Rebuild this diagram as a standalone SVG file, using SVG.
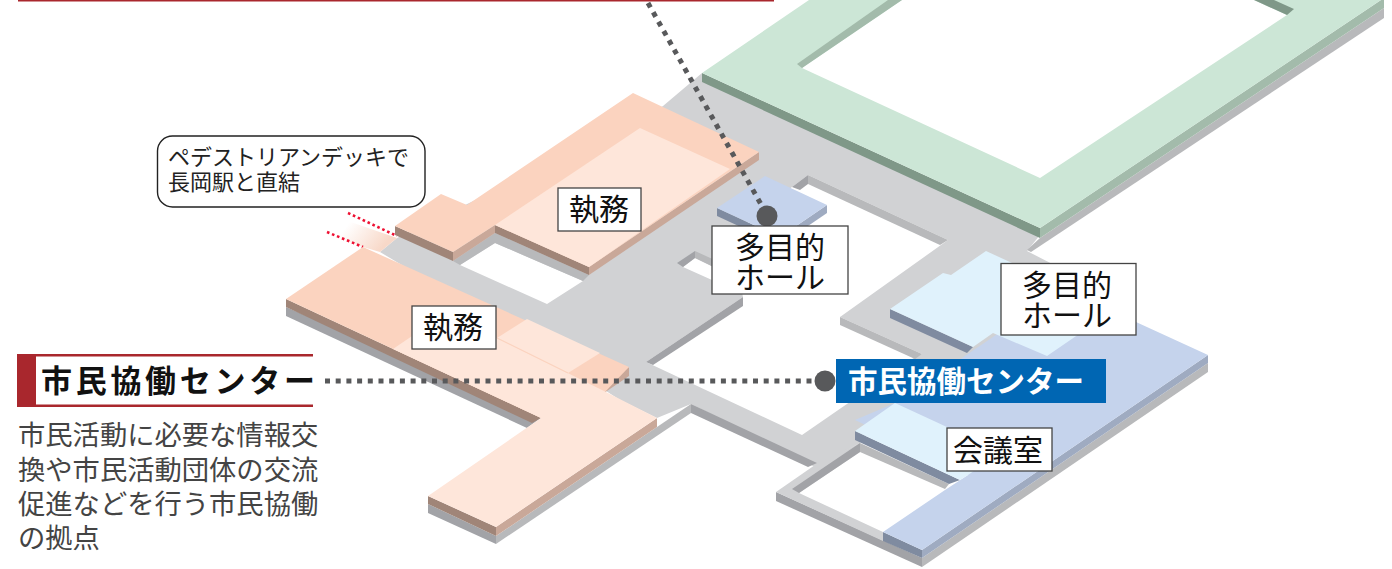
<svg xmlns="http://www.w3.org/2000/svg" width="1392" height="569" viewBox="0 0 1392 569">
<style>
text{font-family:"Noto Sans CJK JP","Noto Sans",sans-serif}
.lbl{font-size:30px;fill:#111;text-anchor:middle}
.box{fill:#fff;stroke:#444;stroke-width:1.3}
.gray{fill:#d1d2d4}.gd{fill:#a2a3a7}.gl{fill:#b8b9bb}
.peach{fill:#fbd3bf}.pl{fill:#fee6da}.bd{fill:#a08578}.bl{fill:#c9a899}
.blue{fill:#c5d3ec}.sd{fill:#7f8ba0}.sl{fill:#9fabc1}.lb{fill:#e0f2fc}
.lead{fill:none;stroke:#58595b;stroke-width:5;stroke-dasharray:5 5.7}
.red{fill:none;stroke:#ee1133;stroke-width:2.6;stroke-dasharray:2.6 2.8}
.rule{fill:#a9272d}
</style>
<defs>
<linearGradient id="fade" gradientUnits="userSpaceOnUse" x1="350" y1="222" x2="382" y2="248">
<stop offset="0" stop-color="#fff"/><stop offset="1" stop-color="#f8d8c8"/>
</linearGradient>
</defs>
<g id="floor-gray">
<path class="gray" fill-rule="evenodd" d="M380,252 L397,238 L640,120 L663,106 L702,73 L1040,235 L1027,251 L1064,270 L1000,340 L895,403 L860,443 L815,467 L691,404 L657,418 L620,400 L527,340 Z M460,265 L495,243 L583,281 L547,304 Z M683,267 L695,258 L730,275 L712,280 Z M646,362 L802,435 L915,357 L922,354 L840,317 L948,240 L808,175 L792,187 L730,235 L743,297 Z"/>
<polygon class="gd" points="743,297 743,306 653,365 646,362"/>
<polygon class="gl" points="840,317 840,325 915,359 922,354"/>
<polygon class="gl" points="808,175 948,240 940,245 808,184"/>
<polygon class="gd" points="792,187 808,175 808,184 800,190"/>
<polygon class="gd" points="677,263 695,251 695,258 683,267"/>
<polygon class="gl" points="695,251 730,267 730,275 695,258"/>
<polygon class="gd" points="691,404 691,413 808,467 817,463"/>
<polygon class="gl" points="691,404 691,413 496,544 496,536 657,427"/>
<polygon points="345,220 397,238 380,252 363,247 335,236" fill="url(#fade)"/>
<path class="red" d="M348,213 L397,236"/>
<path class="red" d="M327,232 L363,247"/>
</g>
<g id="building-green">
<polygon class="gl" points="1384,8 1384,18 1031,252 1027,250 1040,238"/>
<polygon fill="#7f9888" points="702,73 702,82 1040,238 1040,228"/>
<polygon fill="#a3bbab" points="1040,228 1040,238 1384,8 1384,-2"/>
<path fill="#cce6d6" fill-rule="evenodd" d="M702,73 L809,0 L1381,0 L1040,228 Z M802,68 L1040,178 L1287,15 L1254,0 L902,0 Z"/>
<polygon fill="#a3bbab" points="797,64 802,68 902,0 888,0"/>
<polygon fill="#7f9888" points="1254,0 1287,15 1294,9 1274,0"/>
</g>
<g id="wing-upper">
<polygon class="gl" points="453,261 460,265 495,243 495,233"/>
<polygon class="gl" points="495,233 495,243 583,281 589,275"/>
<polygon class="bd" points="395,226 395,235 453,261 453,252"/>
<polygon class="bl" points="453,252 453,261 495,233 495,225"/>
<polygon class="bd" points="495,225 495,233 589,275 589,267"/>
<polygon class="bl" points="589,267 589,275 759,160 759,152"/>
<polygon class="peach" points="395,226 441,194 467,205 633,93 759,152 589,267 495,225 453,252"/>
<polygon class="pl" points="640,128 730,169 589,267 495,225"/>
</g>
<g id="wing-lower">
<polygon class="gd" points="286,307 286,316 527,428 541,418"/>
<polygon class="gd" points="428,504 428,513 496,544 496,536"/>
<polygon class="bd" points="286,299 286,307 532,423 541,418"/>
<polygon class="bd" points="428,496 428,504 496,536 496,527"/>
<polygon class="bl" points="496,527 496,536 657,427 657,418"/>
<polygon class="bl" points="629,367 629,376 604,393 600,387"/>
<polygon class="peach" points="286,299 363,247 629,367 604,393 541,418"/>
<polygon class="pl" points="393,349 418,332 497,338 604,391 657,418 496,527 428,496 541,418"/>
<polygon class="pl" points="497,338 527,319 600,353 568,373"/>
<path d="M497,338 L568,373" stroke="#fbd3bf" stroke-width="1.2" fill="none"/>
</g>
<g id="center-block">
<polygon class="gd" points="776,492 776,501 922,567 922,558"/>
<polygon class="gl" points="922,558 922,567 1208,372 1208,363"/>
<polygon class="sl" points="922,550 922,558 1208,363 1208,355"/>
<polygon class="sd" points="883,532 883,541 922,558 922,550"/>
<polygon class="gray" points="776,492 815,465 860,443 860,452 799,493 883,532 883,541"/>
<polygon class="gd" points="792,489 860,443 860,452 799,493"/>
<polygon class="gl" points="860,443 949,484 945,489 860,452"/>
<polygon class="blue" points="1064,289 1208,355 922,550 883,532 945,490 968,475 855,420 895,403 962,358"/>
<polygon class="sd" points="890,309 890,318 967,353 973,347"/>
<polygon class="lb" points="890,309 943,273 951,275 986,251 1114,310 1047,356 993,333 973,347"/>
<polygon class="sd" points="855,431 855,440 949,484 960,480"/>
<polygon class="lb" points="855,431 895,403 1001,452 968,475 960,480"/>
</g>
<g id="hall-small">
<polygon class="sd" points="717,208 717,216 780,245 780,237"/>
<polygon class="sl" points="780,237 780,245 827,213 827,205"/>
<polygon class="blue" points="717,208 765,176 827,205 780,237"/>
</g>
<g id="connectors">
<path class="lead" d="M648,3 L767,215"/>
<circle cx="767" cy="216" r="10.5" fill="#58595b"/>
<path class="lead" d="M325,381 L825,381"/>
<circle cx="825" cy="381" r="10.5" fill="#58595b"/>
</g>
<g id="top-rule"><rect class="rule" x="18" y="0" width="756" height="1.5"/></g>
<g id="heading">
<rect class="rule" x="17" y="354" width="296" height="2.5"/>
<rect class="rule" x="17" y="404.5" width="296" height="2.5"/>
<rect class="rule" x="17" y="354" width="19" height="53"/>
<text x="41" y="392" font-size="31" font-weight="700" letter-spacing="3.7" fill="#111">市民協働センター</text>
</g>
<g id="description">
<text font-size="27.3" fill="#444"><tspan x="18" y="445">市民活動に必要な情報交</tspan><tspan x="18" y="480">換や市民活動団体の交流</tspan><tspan x="18" y="514">促進などを行う市民協働</tspan><tspan x="18" y="548">の拠点</tspan></text>
</g>
<g id="callout">
<rect x="157.5" y="136" width="267.5" height="71" rx="15" fill="#fff" stroke="#222" stroke-width="1.4"/>
<text font-size="22" fill="#222"><tspan x="168" y="165">ペデストリアンデッキで</tspan><tspan x="168" y="190">長岡駅と直結</tspan></text>
</g>
<g id="label-shitsumu-1"><rect class="box" x="558" y="188" width="83" height="43"/><text class="lbl" x="599" y="220">執務</text></g>
<g id="label-shitsumu-2"><rect class="box" x="412" y="306" width="84" height="43"/><text class="lbl" x="453" y="338">執務</text></g>
<g id="label-hall-1"><rect class="box" x="712" y="226" width="136" height="68"/><text class="lbl"><tspan x="780" y="258">多目的</tspan><tspan x="780" y="288">ホール</tspan></text></g>
<g id="label-hall-2"><rect class="box" x="1001" y="263.500" width="135" height="71.500"/><text class="lbl"><tspan x="1067" y="296">多目的</tspan><tspan x="1067" y="326">ホール</tspan></text></g>
<g id="label-kaigi"><rect class="box" x="947" y="428" width="105" height="43"/><text class="lbl" x="998" y="461">会議室</text></g>
<g id="label-center"><rect x="836" y="359" width="270" height="44" fill="#0066b3"/><text x="848" y="392" font-size="29.500" font-weight="700" fill="#fff">市民協働センター</text></g>
</svg>
